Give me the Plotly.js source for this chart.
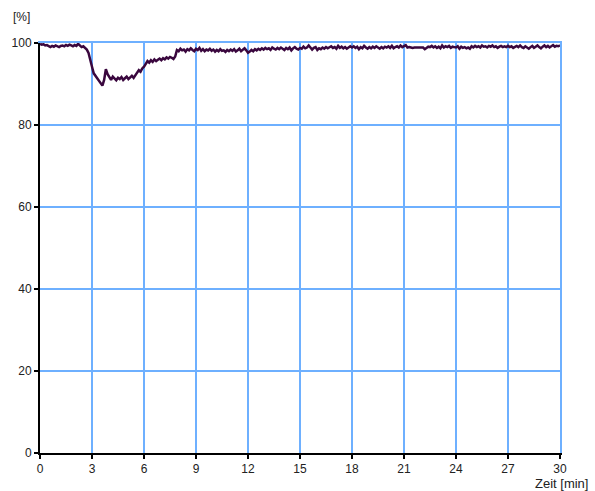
<!DOCTYPE html>
<html>
<head>
<meta charset="utf-8">
<script src="https://cdn.plot.ly/plotly-3.0.1.min.js"></script>
<style>html,body{margin:0;padding:0;background:#fff}#chart{width:595px;height:491px}</style>
</head>
<body>
<div id="chart"></div>
<script>
// time step 0.1 min, values in %
const timeStart = 0;
const timeStep = 0.1;
const percentValues = [
99.8, 99.6, 99.7, 99.4, 99.5, 99.2, 99.0, 99.3, 99.1, 99.4,
99.2, 99.0, 99.3, 99.4, 99.2, 99.5, 99.3, 99.6, 99.4, 99.2,
99.5, 99.3, 99.8, 99.4, 99.0, 99.2, 98.7, 98.4, 97.6, 96.2,
94.2, 92.6, 92.0, 91.4, 90.8, 90.2, 89.6, 91.0, 93.6, 92.4,
91.6, 91.0, 91.8, 91.3, 90.9, 91.5, 91.2, 91.7, 91.0, 91.4,
91.8, 91.2, 91.6, 92.0, 91.5, 92.2, 92.6, 93.4, 93.0, 93.8,
94.2, 95.0, 95.6, 95.2, 95.8, 95.4, 96.0, 95.6, 95.9, 96.2,
95.8, 96.3, 96.0, 96.5, 96.2, 96.6, 96.4, 96.1, 96.7, 98.3,
98.0, 98.6, 98.2, 98.4, 97.9, 98.5, 98.2, 98.7, 98.3, 98.0,
98.6, 98.3, 98.8, 98.1, 98.5, 98.0, 98.4, 98.2, 98.6, 98.1,
98.4, 97.9, 98.3, 98.0, 98.5, 98.1, 98.2, 97.8, 98.3, 98.0,
98.4, 98.1, 98.5, 97.9, 98.2, 98.6, 98.0, 98.3, 98.7, 98.2,
97.6, 97.9, 98.3, 98.0, 98.5, 98.2, 98.6, 98.3, 98.7, 98.4,
98.8, 98.5, 98.7, 98.3, 98.9, 98.6, 98.4, 98.8, 98.5, 98.9,
98.6, 98.3, 98.8, 98.5, 98.9, 98.2, 98.7, 99.0, 98.6, 98.4,
98.8, 98.6, 99.1, 98.7, 98.9, 99.4, 98.9, 98.4, 98.8, 99.0,
98.3, 98.7, 98.5, 98.9, 98.6, 99.0, 98.7, 98.9, 99.2, 98.8,
99.0, 98.6, 99.3, 98.8, 99.1, 98.7, 99.0, 98.6, 98.9, 99.2,
98.9, 99.2, 98.8, 99.1, 98.5, 99.0, 98.7, 99.3, 98.9, 98.6,
99.0, 98.7, 99.1, 98.8, 99.2, 98.9, 98.6, 99.0, 98.7, 99.1,
98.9, 99.2, 98.8, 99.3, 98.7, 99.0, 99.2, 98.9, 99.4, 99.0,
99.2, 99.5, 98.9, 99.0, 98.9, 98.8, 98.9, 98.9, 98.8, 98.8,
98.9, 98.9, 98.5, 98.9, 99.1, 99.0, 99.3, 98.9, 99.2, 98.8,
99.1, 98.7, 99.4, 98.9, 99.2, 99.0, 99.3, 98.8, 99.1, 99.0,
98.9, 99.2, 98.6, 99.1, 98.8, 99.0, 98.7, 98.9, 98.6, 99.2,
98.9, 99.3, 99.0, 99.2, 98.9, 99.4, 99.1, 99.2, 98.9, 99.3,
99.1, 99.4, 99.0, 99.2, 98.8, 99.1, 99.3, 99.0, 99.2, 99.0,
99.3, 99.0, 99.2, 98.8, 99.1, 99.3, 99.0, 99.4, 99.0, 98.8,
99.2, 98.9, 98.6, 99.0, 99.3, 98.8, 99.1, 99.4, 99.0, 98.7,
99.1, 99.4, 99.0, 99.3, 98.9, 99.2, 99.5, 99.1, 99.3, 99.2,
99.4
];
const xTicks = [0, 3, 6, 9, 12, 15, 18, 21, 24, 27, 30];
const yTicks = [0, 20, 40, 60, 80, 100];
const yUnitLabel = "[%]";
const xAxisLabel = "Zeit [min]";

const timeValues = percentValues.map((v, i) => +(timeStart + i * timeStep).toFixed(2));

const gridColor = "#6eb0ff";
const fontFam = "Liberation Sans, Arial, Helvetica, sans-serif";

const trace = {
  x: timeValues,
  y: percentValues,
  type: "scatter",
  mode: "lines",
  line: {color: "#3a073e", width: 2.5},
  hoverinfo: "skip"
};

const baseAxis = {
  showgrid: true,
  gridcolor: gridColor,
  gridwidth: 2,
  showline: true,
  linecolor: "#000",
  linewidth: 2,
  ticks: "outside",
  ticklen: 4,
  tickwidth: 2,
  tickcolor: "#000",
  zeroline: false,
  fixedrange: true
};

const layout = {
  width: 595,
  height: 491,
  margin: {l: 40, r: 35, t: 43, b: 38},
  paper_bgcolor: "#ffffff",
  plot_bgcolor: "#ffffff",
  showlegend: false,
  font: {family: fontFam, size: 12, color: "#222"},
  xaxis: Object.assign({}, baseAxis, {range: [0, 30], tickvals: xTicks, ticktext: xTicks.map(String)}),
  yaxis: Object.assign({}, baseAxis, {range: [0, 100], tickvals: yTicks, ticktext: yTicks.map(String)}),
  // blue edge lines at top (100) and right (30), as in the reference grid
  xaxis2: {overlaying: "x", side: "top", range: [0, 30], showline: true, linecolor: gridColor, linewidth: 2,
           showgrid: false, showticklabels: false, ticks: "", zeroline: false, fixedrange: true},
  yaxis2: {overlaying: "y", side: "right", range: [0, 100], showline: true, linecolor: gridColor, linewidth: 2,
           showgrid: false, showticklabels: false, ticks: "", zeroline: false, fixedrange: true},
  annotations: [
    {text: yUnitLabel, xref: "paper", yref: "paper", x: -0.055, y: 1.0, yshift: 26,
     xanchor: "left", yanchor: "middle", showarrow: false, font: {family: fontFam, size: 12, color: "#222"}},
    {text: xAxisLabel, xref: "paper", yref: "paper", x: 1.0, y: 0, yshift: -30, xshift: 30,
     xanchor: "right", yanchor: "middle", showarrow: false, font: {family: fontFam, size: 13, color: "#222"}}
  ]
};

const edgeTrace = {x: [], y: [], xaxis: "x2", yaxis: "y2", type: "scatter", mode: "lines", hoverinfo: "skip"};

Plotly.newPlot("chart", [edgeTrace, trace], layout, {staticPlot: true, displayModeBar: false});
</script>
</body>
</html>
